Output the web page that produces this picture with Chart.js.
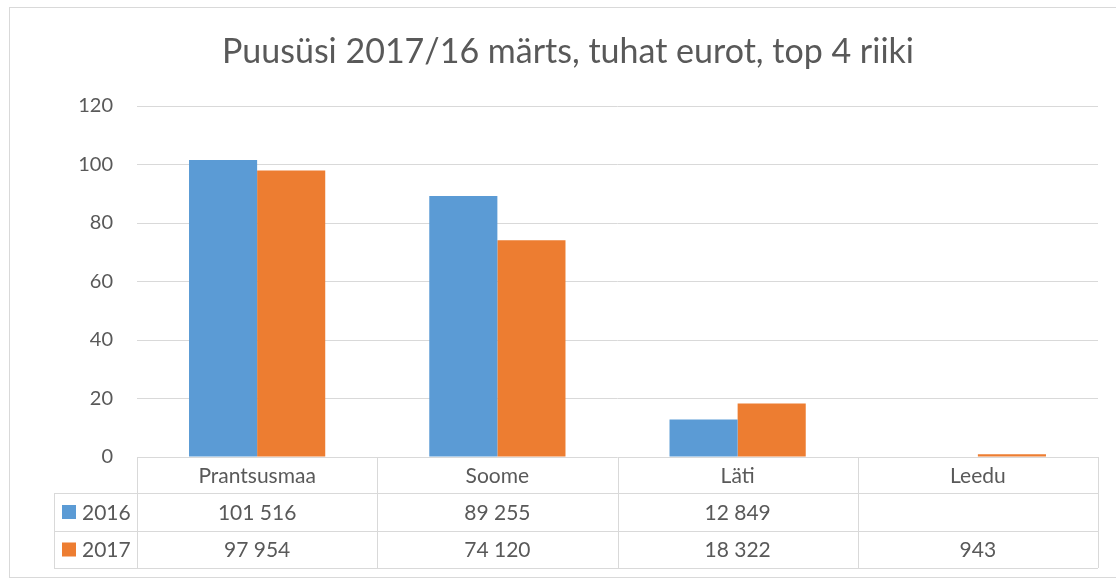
<!DOCTYPE html>
<html><head><meta charset="utf-8">
<script src="https://cdn.jsdelivr.net/npm/chart.js@4.4.1/dist/chart.umd.min.js"></script>
<style>html,body{margin:0;padding:0;background:#fff;}#wrap{width:1116px;height:579px;position:relative;}</style>
</head><body><div id="wrap"><canvas id="c" width="1116" height="579"></canvas></div>
<script>
const title = 'Puusüsi 2017/16 märts, tuhat eurot, top 4 riiki';
const categories = ['Prantsusmaa', 'Soome', 'Läti', 'Leedu'];
const seriesNames = ['2016', '2017'];
const values2016 = [101516, 89255, 12849, null];
const values2017 = [97954, 74120, 18322, 943];
const yTicks = [0, 20, 40, 60, 80, 100, 120];

const FONT = 'Lato, "Open Sans", sans-serif';
const colors = ['#5B9BD5', '#ED7D31'];
const gridColor = '#d9d9d9';
const textColor = '#595959';

function fmt(v){ if(v==null) return ''; return String(v).replace(/\B(?=(\d{3})+(?!\d))/g, ' '); }

const tablePlugin = {
  id: 'tablePlugin',
  afterDraw(chart){
    const ctx = chart.ctx, x = chart.scales.x, ca = chart.chartArea;
    const rowH = [36, 38, 37];
    const top = ca.bottom;
    const r1 = top + rowH[0], r2 = r1 + rowH[1], r3 = r2 + rowH[2];
    const legLeft = 54;
    ctx.save();
    ctx.strokeStyle = gridColor; ctx.lineWidth = 1;
    ctx.beginPath();
    const n = categories.length;
    const step = (ca.right - ca.left) / n;
    for(let i=0;i<=n;i++){ const px = Math.round(ca.left + i*step)+0.5; ctx.moveTo(px, top); ctx.lineTo(px, r3); }
    ctx.moveTo(legLeft+0.5, r1); ctx.lineTo(legLeft+0.5, r3);
    [r1, r2, r3].forEach(y=>{ ctx.moveTo(legLeft, Math.round(y)+0.5); ctx.lineTo(ca.right, Math.round(y)+0.5); });
    ctx.stroke();
    ctx.fillStyle = textColor; ctx.font = '21px ' + FONT;
    ctx.textAlign = 'center'; ctx.textBaseline = 'middle';
    categories.forEach((c,i)=>{
      const cx = x.getPixelForTick(i);
      ctx.fillText(c, cx, top + rowH[0]/2 + 1);
      ctx.fillText(fmt(values2016[i]), cx, r1 + rowH[1]/2 + 1);
      ctx.fillText(fmt(values2017[i]), cx, r2 + rowH[2]/2 + 1);
    });
    [r1, r2].forEach((ry, k)=>{
      const h = rowH[k+1];
      ctx.fillStyle = colors[k];
      ctx.fillRect(62, ry + h/2 - 7, 14, 14);
      ctx.fillStyle = textColor; ctx.textAlign = 'left';
      ctx.fillText(seriesNames[k], 82, ry + h/2 + 1);
    });
    ctx.font = '34px ' + FONT; ctx.textAlign = 'center'; ctx.textBaseline = 'alphabetic'; ctx.fillStyle = textColor;
    ctx.fillText(title, 568, 63);
    ctx.strokeStyle = gridColor;
    ctx.strokeRect(9.5, 7.5, 1120, 570);
    ctx.restore();
  }
};

new Chart(document.getElementById('c'), {
  type: 'bar',
  data: {
    labels: categories,
    datasets: [
      { label: seriesNames[0], data: values2016, backgroundColor: colors[0], categoryPercentage: 0.567, barPercentage: 1.0 },
      { label: seriesNames[1], data: values2017, backgroundColor: colors[1], categoryPercentage: 0.567, barPercentage: 1.0 }
    ]
  },
  options: {
    responsive: false, animation: false,
    layout: { padding: { left: 0, top: 106, right: 18, bottom: 122 } },
    plugins: { legend: { display: false }, tooltip: { enabled: false }, title: { display: false } },
    scales: {
      x: { display: false },
      y: {
        min: 0, max: 120000,
        afterBuildTicks(s){ s.ticks = yTicks.map(v=>({value: v*1000})); },
        afterFit(s){ s.width = 137; s.paddingTop = 0; s.paddingBottom = 0; },
        grid: { color: gridColor, drawTicks: false, lineWidth: 1 },
        border: { display: false },
        ticks: { color: textColor, font: { family: FONT, size: 20 }, padding: 24, callback: v => String(v/1000) }
      }
    }
  },
  plugins: [tablePlugin]
});
</script></body></html>
